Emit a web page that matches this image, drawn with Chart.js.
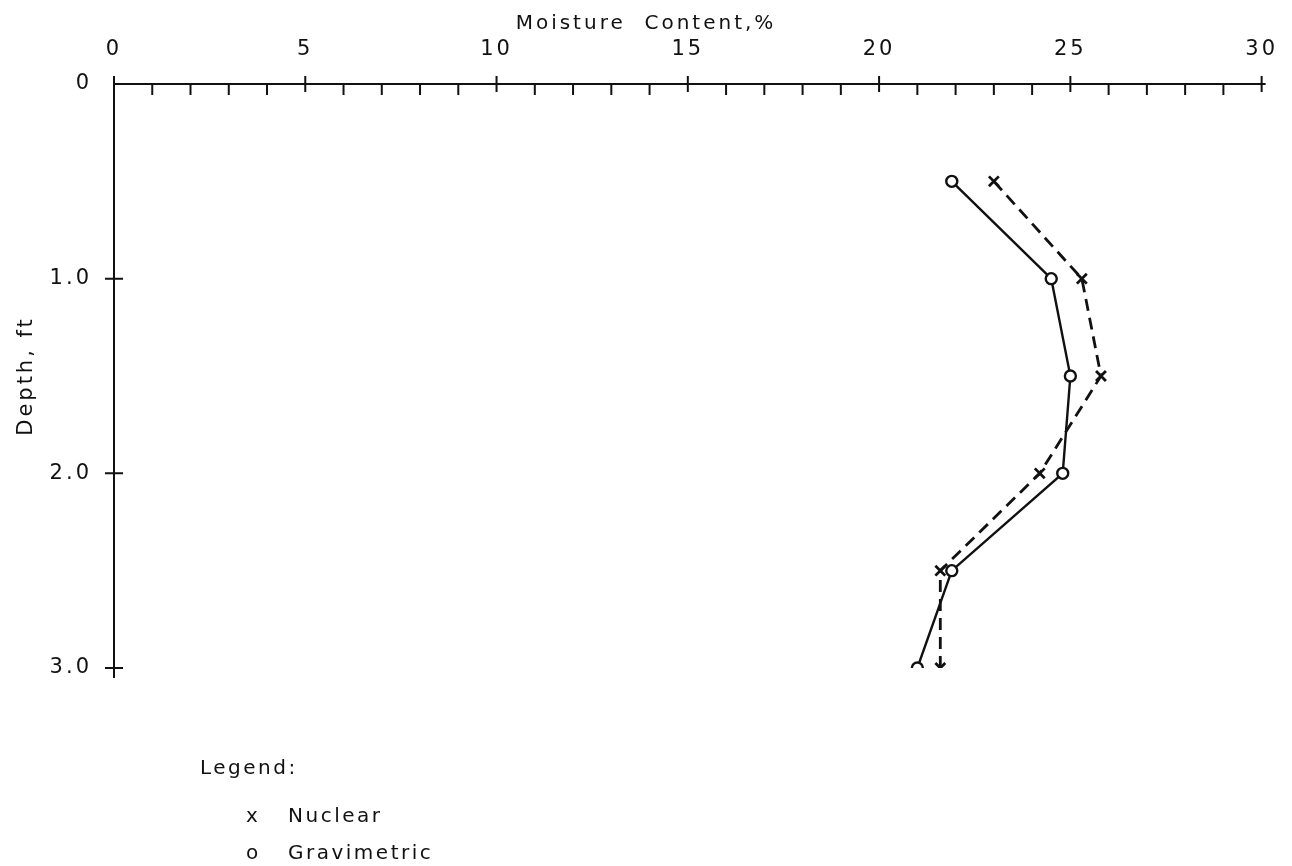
<!DOCTYPE html>
<html>
<head>
<meta charset="utf-8">
<script src="https://cdn.jsdelivr.net/npm/chart.js"></script>
<style>
  body { margin: 0; background: #fff; }
  #wrap { position: relative; width: 1292px; height: 866px; }
  .lg { position: absolute; font-family: "DejaVu Sans", sans-serif; font-size: 20px;
        letter-spacing: 2.5px; color: #111; line-height: 24px; white-space: nowrap; }
</style>
</head>
<body>
<div id="wrap">
  <canvas id="myChart"></canvas>
  <div class="lg" style="left:200px; top:755px;">Legend:</div>
  <div class="lg" style="left:246px; top:803px;">x</div>
  <div class="lg" style="left:288px; top:803px;">Nuclear</div>
  <div class="lg" style="left:246px; top:840px;">o</div>
  <div class="lg" style="left:288px; top:840px;">Gravimetric</div>
</div>
<script>
// depth profile, moisture in %
var depthFt = [0.5, 1.0, 1.5, 2.0, 2.5, 3.0];
var nuclear = [23.0, 25.3, 25.8, 24.2, 21.6, 21.6];
var gravimetric = [21.9, 24.5, 25.0, 24.8, 21.9, 21.0];

var xMin = 0, xMax = 30;
var yMin = 0, yMax = 3;
var ink = "#111";

function pts(vals) {
  return vals.map(function (v, i) { return {x: v, y: depthFt[i]}; });
}

// tick marks drawn at the scale's own tick positions
var axisMarks = {
  id: "axisMarks",
  beforeUpdate: function (chart) { chart.ctx.letterSpacing = "3px"; },
  beforeDraw: function (chart) { chart.ctx.letterSpacing = "3px"; },
  afterDraw: function (chart) {
    var ctx = chart.ctx, xs = chart.scales.x, ys = chart.scales.y;
    var top = chart.chartArea.top, left = chart.chartArea.left;
    ctx.save();
    ctx.strokeStyle = ink;
    ctx.lineWidth = 2;
    ctx.beginPath();
    ctx.moveTo(left, top);
    ctx.lineTo(xs.getPixelForValue(xMax) + 4, top);
    ctx.moveTo(left, top - 8);
    ctx.lineTo(left, ys.getPixelForValue(yMax) + 10);
    xs.ticks.forEach(function (t) {
      var px = xs.getPixelForValue(t.value);
      if (t.value % 5 === 0) {
        ctx.moveTo(px, top - 8);
        ctx.lineTo(px, top + 8);
      } else {
        ctx.moveTo(px, top);
        ctx.lineTo(px, top + 11);
      }
    });
    ys.ticks.forEach(function (t) {
      if (t.value === 0) return;
      var py = ys.getPixelForValue(t.value);
      ctx.moveTo(left - 9, py);
      ctx.lineTo(left + 9, py);
    });
    ctx.stroke();
    ctx.restore();
  }
};

Chart.defaults.font.family = "'DejaVu Sans', sans-serif";
Chart.defaults.color = ink;

new Chart("myChart", {
  type: "scatter",
  data: {
    datasets: [{
      label: "Nuclear",
      data: pts(nuclear),
      showLine: true,
      borderColor: ink,
      borderWidth: 2.8,
      borderDash: [12, 7],
      pointStyle: "crossRot",
      pointRadius: 7,
      pointBorderWidth: 2.8,
      pointBorderColor: ink,
      pointBackgroundColor: ink
    }, {
      label: "Gravimetric",
      data: pts(gravimetric),
      showLine: true,
      borderColor: ink,
      borderWidth: 2.4,
      pointStyle: "circle",
      pointRadius: 5.5,
      pointBorderWidth: 2.4,
      pointBorderColor: ink,
      pointBackgroundColor: "#fff"
    }]
  },
  options: {
    responsive: true,
    maintainAspectRatio: false,
    animation: false,
    layout: {padding: {left: 0, right: 0, top: 0, bottom: 198}},
    plugins: {
      legend: {display: false},
      tooltip: {enabled: false},
      title: {
        display: true,
        text: "Moisture  Content,%",
        font: {size: 20, weight: "normal", lineHeight: 1.2},
        color: ink,
        padding: {top: 12, bottom: 0}
      }
    },
    scales: {
      x: {
        type: "linear",
        position: "top",
        min: xMin,
        max: xMax,
        grid: {display: false},
        border: {display: false},
        afterFit: function (s) { s.height = 48; },
        ticks: {
          stepSize: 1,
          autoSkip: false,
          maxRotation: 0,
          padding: 14,
          font: {size: 21},
          callback: function (v) { return v % 5 === 0 ? String(v) : ""; }
        }
      },
      y: {
        type: "linear",
        position: "left",
        reverse: true,
        min: yMin,
        max: yMax,
        grid: {display: false},
        border: {display: false},
        afterFit: function (s) { s.width = 114; },
        title: {
          display: true,
          text: "Depth, ft",
          font: {size: 21},
          padding: {top: 14, bottom: 0}
        },
        ticks: {
          stepSize: 1,
          padding: 14,
          font: {size: 21},
          callback: function (v) { return v === 0 ? "0" : v.toFixed(1); }
        }
      },
      yR: {
        type: "linear",
        position: "right",
        display: true,
        grid: {display: false},
        border: {display: false},
        ticks: {display: false},
        afterFit: function (s) { s.width = 29; }
      }
    }
  },
  plugins: [axisMarks]
});
</script>
</body>
</html>
